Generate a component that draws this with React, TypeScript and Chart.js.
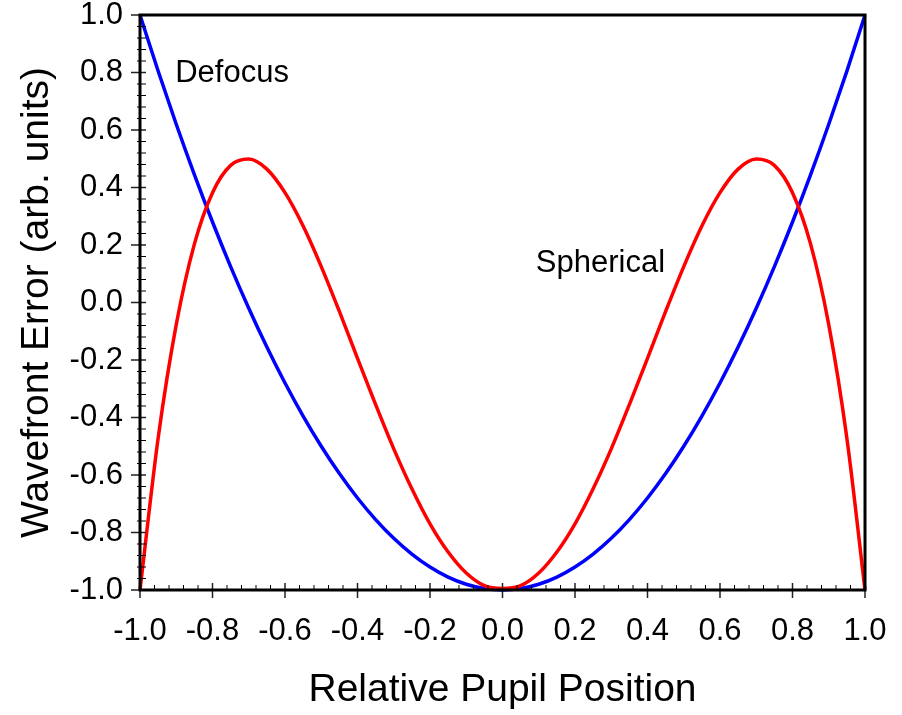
import React, { useEffect, useRef } from "react";
import { Chart, registerables } from "chart.js";

Chart.register(...registerables);

// Relative pupil position (x)
const pupilPositions = [
  -1.0, -0.95, -0.9, -0.85, -0.8, -0.75, -0.7, -0.65, -0.6, -0.55, -0.5,
  -0.45, -0.4, -0.35, -0.3, -0.25, -0.2, -0.15, -0.1, -0.05, 0.0,
  0.05, 0.1, 0.15, 0.2, 0.25, 0.3, 0.35, 0.4, 0.45, 0.5,
  0.55, 0.6, 0.65, 0.7, 0.75, 0.8, 0.85, 0.9, 0.95, 1.0,
];

// Defocus wavefront error (blue)
const defocusValues = [
  1.0, 0.805, 0.62, 0.445, 0.28, 0.125, -0.02, -0.155, -0.28, -0.395, -0.5,
  -0.595, -0.68, -0.755, -0.82, -0.875, -0.92, -0.955, -0.98, -0.995, -1.0,
  -0.995, -0.98, -0.955, -0.92, -0.875, -0.82, -0.755, -0.68, -0.595, -0.5,
  -0.395, -0.28, -0.155, -0.02, 0.125, 0.28, 0.445, 0.62, 0.805, 1.0,
];

// Spherical wavefront error (red)
const sphericalValues = [
  -1.0, -0.472, -0.077, 0.203, 0.382, 0.477, 0.499, 0.464, 0.382, 0.266, 0.125,
  -0.031, -0.194, -0.355, -0.509, -0.648, -0.77, -0.868, -0.941, -0.985, -0.995,
  -0.985, -0.941, -0.868, -0.77, -0.648, -0.509, -0.355, -0.194, -0.031, 0.125,
  0.266, 0.382, 0.464, 0.499, 0.477, 0.382, 0.203, -0.077, -0.472, -1.0,
];

// In-plot text labels (data coordinates of the text's left baseline)
const labelTexts = ["Defocus", "Spherical"];
const labelX = [-0.903, 0.092];
const labelY = [0.767, 0.106];

const FONT = "'Liberation Sans', Arial, Helvetica, sans-serif";

const fmt = (v: number) => (Math.abs(v) < 1e-9 ? "0.0" : v.toFixed(1));

const zeroPad = (s: any) => {
  s.paddingTop = 0;
  s.paddingBottom = 0;
  s.paddingLeft = 0;
  s.paddingRight = 0;
};

const framePlugin = {
  id: "frameTicks",
  afterDatasetsDraw(chart: any) {
    const { ctx, chartArea: a, scales } = chart;
    const xs = scales.x;
    const ys = scales.y;
    ctx.save();

    // annotations
    ctx.fillStyle = "#000";
    ctx.font = `31px ${FONT}`;
    ctx.textAlign = "left";
    ctx.textBaseline = "alphabetic";
    labelTexts.forEach((t, i) => {
      ctx.fillText(t, xs.getPixelForValue(labelX[i]), ys.getPixelForValue(labelY[i]));
    });

    // minor + major ticks
    for (let i = 0; i <= 50; i++) {
      const v = -1 + i * 0.04;
      const major = i % 5 === 0;
      const px = xs.getPixelForValue(v);
      ctx.beginPath();
      ctx.lineWidth = major ? 1.5 : 1;
      ctx.strokeStyle = major ? "#222" : "#000";
      if (major) {
        ctx.moveTo(px, a.bottom - 7);
        ctx.lineTo(px, a.bottom + 8);
      } else {
        ctx.moveTo(px, a.bottom - 5);
        ctx.lineTo(px, a.bottom);
      }
      ctx.stroke();
      const py = ys.getPixelForValue(v);
      ctx.beginPath();
      if (major) {
        ctx.moveTo(a.left - 9, py);
        ctx.lineTo(a.left + 6, py);
      } else {
        ctx.moveTo(a.left - 3, py);
        ctx.lineTo(a.left + 6, py);
      }
      ctx.stroke();
    }

    // frame
    ctx.lineWidth = 3;
    ctx.strokeStyle = "#000";
    ctx.strokeRect(a.left, a.top, a.right - a.left, a.bottom - a.top);
    ctx.restore();
  },
};

export default function App() {
  const ref = useRef<HTMLCanvasElement | null>(null);

  useEffect(() => {
    document.body.style.margin = "0";
    const canvas = ref.current;
    if (!canvas) return;
    const chart = new Chart(canvas, {
      type: "line",
      data: {
        datasets: [
          {
            label: "Spherical",
            data: pupilPositions.map((x, i) => ({ x, y: sphericalValues[i] })),
            borderColor: "#ff0000",
            borderWidth: 3.5,
            pointRadius: 0,
            cubicInterpolationMode: "monotone",
            fill: false,
            clip: 4,
          },
          {
            label: "Defocus",
            data: pupilPositions.map((x, i) => ({ x, y: defocusValues[i] })),
            borderColor: "#0000ff",
            borderWidth: 3.5,
            pointRadius: 0,
            cubicInterpolationMode: "monotone",
            fill: false,
            clip: 4,
          },
        ],
      },
      options: {
        responsive: false,
        animation: false,
        devicePixelRatio: 1,
        layout: { padding: { top: 15, right: 37, left: 0, bottom: 0 } },
        plugins: {
          legend: { display: false },
          tooltip: { enabled: false },
        },
        scales: {
          x: {
            type: "linear",
            min: -1,
            max: 1,
            afterFit: (s: any) => {
              s.height = 125;
              zeroPad(s);
            },
            grid: { display: false, drawTicks: false },
            border: { display: false },
            ticks: {
              stepSize: 0.2,
              padding: 23,
              color: "#000",
              font: { family: FONT, size: 31 },
              maxRotation: 0,
              autoSkip: false,
              callback: (v: any) => fmt(Number(v)),
            },
            title: {
              display: true,
              text: "Relative Pupil Position",
              color: "#000",
              font: { family: FONT, size: 39 },
              padding: { top: 0, bottom: 1 },
            },
          },
          y: {
            type: "linear",
            min: -1,
            max: 1,
            afterFit: (s: any) => {
              s.width = 140;
              zeroPad(s);
            },
            grid: { display: false, drawTicks: false },
            border: { display: false },
            ticks: {
              stepSize: 0.2,
              padding: 17,
              color: "#000",
              font: { family: FONT, size: 31 },
              autoSkip: false,
              callback: (v: any) => fmt(Number(v)),
            },
            title: {
              display: true,
              text: "Wavefront Error (arb. units)",
              color: "#000",
              font: { family: FONT, size: 39 },
              padding: { top: 14, bottom: 0 },
            },
          },
        },
      },
      plugins: [framePlugin],
    });
    return () => chart.destroy();
  }, []);

  return <canvas ref={ref} width={902} height={715} style={{ display: "block" }} />;
}
